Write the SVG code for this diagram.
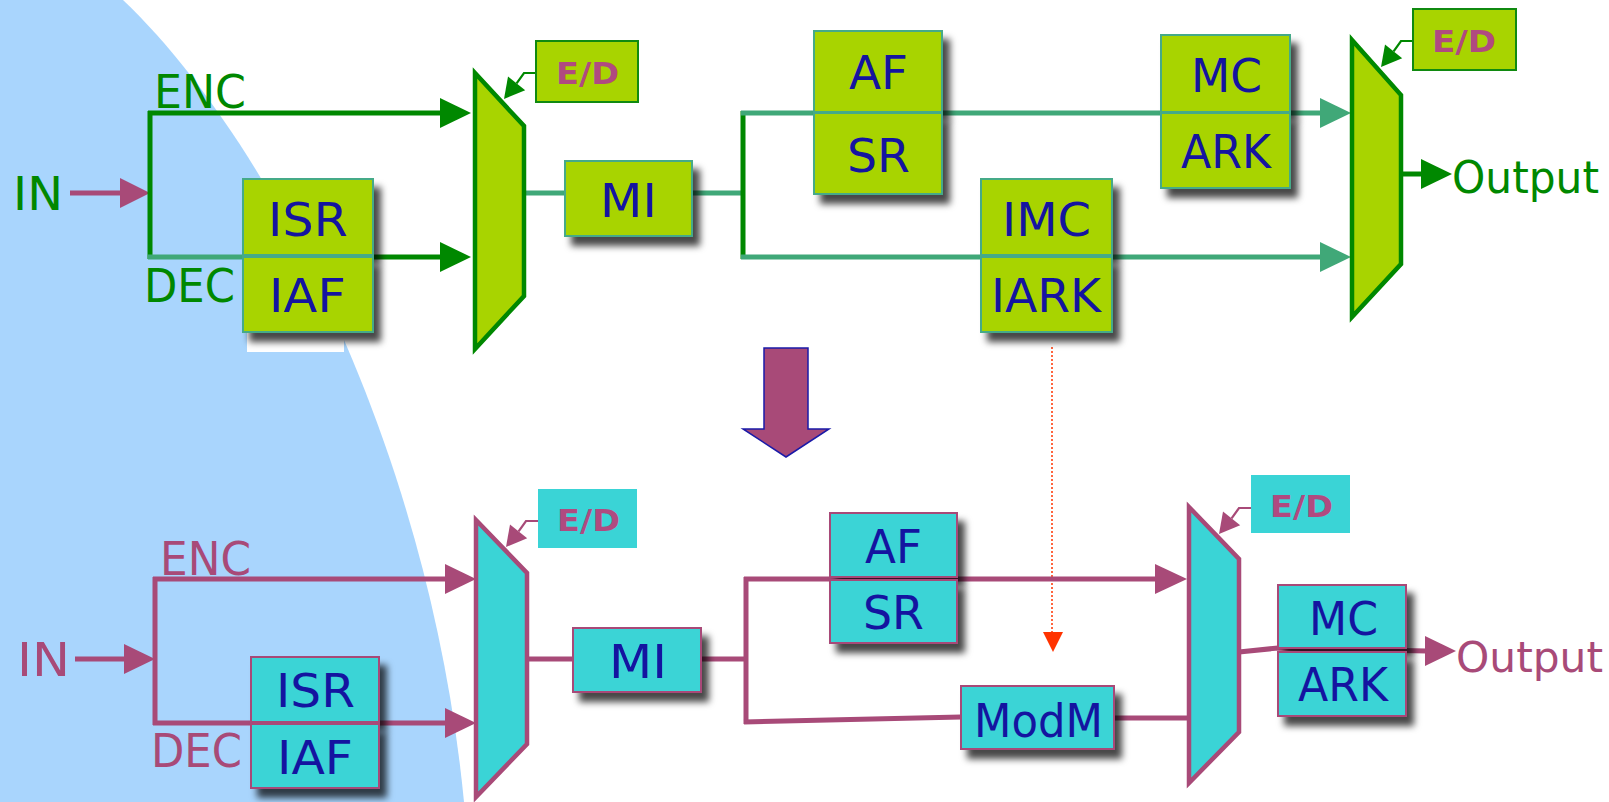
<svg xmlns="http://www.w3.org/2000/svg" xmlns:xlink="http://www.w3.org/1999/xlink" width="1609" height="802" viewBox="0 0 1609 802">
<style>
.gbox{fill:#A8D400;stroke:#44AA88;stroke-width:2;filter:url(#sh)}
.cbox{fill:#3AD4D6;stroke:#A84A78;stroke-width:2;filter:url(#sh)}
.gedbox{fill:#A8D400;stroke:#108A10;stroke-width:2}
.cedbox{fill:#3AD4D6;stroke:none}
.lbl{font-family:"DejaVu Sans",Verdana,sans-serif;font-size:47px;fill:#1414A0}
.gt{font-family:"DejaVu Sans",Verdana,sans-serif;font-size:47px;fill:#008800}
.mt{font-family:"DejaVu Sans",Verdana,sans-serif;font-size:47px;fill:#A84A78}
.ed{font-family:"DejaVu Sans",Verdana,sans-serif;font-weight:bold;font-size:31px;fill:#B04A80}
.gmux{fill:#A8D400;stroke:#008800;stroke-width:4.5;stroke-linejoin:miter}
.cmux{fill:#3AD4D6;stroke:#A84A78;stroke-width:4.5;stroke-linejoin:miter}
.gl{stroke:#008800;stroke-width:5;fill:none}
.tl{stroke:#40A878;stroke-width:5;fill:none}
.ml{stroke:#A84A78;stroke-width:5;fill:none}
.ga{fill:#008800}
.ta{fill:#40A878}
.ma{fill:#A84A78}
</style>
<defs>
<filter id="sh" x="-10%" y="-10%" width="140%" height="150%">
<feDropShadow dx="7" dy="9" stdDeviation="3.5" flood-color="#000" flood-opacity="0.72"/>
</filter>
<g id="edarrow">
<path d="M0,0 H-12 L-19.4,10.4" fill="none" stroke="currentColor" stroke-width="2.2"/>
<polygon points="-32,26 -10.8,17.3 -28,3.5" fill="currentColor"/>
</g>
</defs>

<rect width="1609" height="802" fill="#FFFFFF"/>
<path id="bg" d="M0,0 H123 C270,140 430,450 464,802 H0 Z" fill="#A9D5FD"/>
<rect x="247" y="333" width="97" height="19" fill="#FFFFFF"/>

<g id="connectors">
<!-- top -->
<line class="ml" x1="70" y1="193" x2="122" y2="193"/>
<polygon class="ma" points="120,178 150,193 120,208"/>
<line class="gl" x1="150" y1="111" x2="150" y2="259" stroke-width="4"/>
<line class="gl" x1="148" y1="113" x2="442" y2="113"/>
<polygon class="ga" points="440,98 471,113 440,128"/>
<line class="tl" x1="148" y1="257" x2="245" y2="257"/>
<line class="gl" x1="245" y1="257" x2="442" y2="257"/>
<polygon class="ga" points="440,242 471,257 440,272"/>
<line class="tl" x1="524" y1="193" x2="565" y2="193"/>
<line class="tl" x1="692" y1="193" x2="743" y2="193"/>
<line class="gl" x1="743" y1="111" x2="743" y2="259" stroke-width="4"/>
<line class="tl" x1="741" y1="113" x2="1322" y2="113"/>
<polygon class="ta" points="1320,98 1351,113 1320,128"/>
<line class="tl" x1="741" y1="257" x2="1322" y2="257"/>
<polygon class="ta" points="1320,242 1351,257 1320,272"/>
<line class="gl" x1="1401" y1="174" x2="1423" y2="174"/>
<polygon class="ga" points="1421,159 1452,174 1421,189"/>
<use xlink:href="#edarrow" x="536" y="73" color="#008800"/>
<use xlink:href="#edarrow" x="1413" y="41" color="#008800"/>
<!-- transform arrow -->
<polygon points="764,348 808,348 808,429 829,429 786,457 743,429 764,429" fill="#A84A78" stroke="#1A1AA8" stroke-width="1.5"/>
<line x1="1052" y1="347" x2="1052" y2="634" stroke="#FF3300" stroke-width="1.5" stroke-dasharray="2,2"/>
<polygon points="1043,632 1063,632 1053,652" fill="#FF3300"/>
<!-- bottom -->
<line class="ml" x1="75" y1="659" x2="126" y2="659"/>
<polygon class="ma" points="124,644 155,659 124,674"/>
<line class="ml" x1="155" y1="577" x2="155" y2="725"/>
<line class="ml" x1="153" y1="579" x2="447" y2="579"/>
<polygon class="ma" points="445,564 476,579 445,594"/>
<line class="ml" x1="153" y1="723" x2="447" y2="723"/>
<polygon class="ma" points="445,708 476,723 445,738"/>
<line class="ml" x1="527" y1="659" x2="573" y2="659"/>
<line class="ml" x1="701" y1="659" x2="746" y2="659"/>
<line class="ml" x1="746" y1="577" x2="746" y2="724"/>
<line class="ml" x1="744" y1="579" x2="1157" y2="579"/>
<polygon class="ma" points="1155,564 1187,579 1155,594"/>
<polyline class="ml" points="744,722 961,717"/>
<line class="ml" x1="1114" y1="718" x2="1189" y2="718"/>
<polyline class="ml" points="1239,652 1278,648 1427,651"/>
<polygon class="ma" points="1425,636 1456,651 1425,666"/>
<use xlink:href="#edarrow" x="538" y="521" color="#A84A78"/>
<use xlink:href="#edarrow" x="1251" y="508" color="#A84A78"/>
</g>

<!-- top labels -->
<g id="top-in"><text class="gt" x="13" y="210" textLength="50" lengthAdjust="spacingAndGlyphs">IN</text></g>
<g id="top-enc"><text class="gt" x="154" y="108" textLength="92" lengthAdjust="spacingAndGlyphs">ENC</text></g>
<g id="top-dec"><text class="gt" x="144" y="302" textLength="91" lengthAdjust="spacingAndGlyphs">DEC</text></g>

<g id="top-isr"><rect class="gbox" x="243" y="179" width="130" height="76"/><text class="lbl" x="268" y="236" textLength="80" lengthAdjust="spacingAndGlyphs">ISR</text></g>
<g id="top-iaf"><rect class="gbox" x="243" y="257" width="130" height="75"/><text class="lbl" x="269" y="312" textLength="77" lengthAdjust="spacingAndGlyphs">IAF</text></g>

<g id="top-mux1"><polygon class="gmux" points="475,73 524,126 524,296 475,349"/></g>
<g id="top-ed1"><rect class="gedbox" x="536" y="41" width="102" height="61"/><text class="ed" x="556" y="84" textLength="63" lengthAdjust="spacingAndGlyphs">E/D</text></g>

<g id="top-mi"><rect class="gbox" x="565" y="161" width="127" height="75"/><text class="lbl" x="600" y="217" textLength="57" lengthAdjust="spacingAndGlyphs">MI</text></g>

<g id="top-af"><rect class="gbox" x="814" y="31" width="128" height="81"/><text class="lbl" x="849" y="89" textLength="59" lengthAdjust="spacingAndGlyphs">AF</text></g>
<g id="top-sr"><rect class="gbox" x="814" y="113" width="128" height="81"/><text class="lbl" x="847" y="172" textLength="63" lengthAdjust="spacingAndGlyphs">SR</text></g>

<g id="top-imc"><rect class="gbox" x="981" y="179" width="131" height="76"/><text class="lbl" x="1002" y="236" textLength="89" lengthAdjust="spacingAndGlyphs">IMC</text></g>
<g id="top-iark"><rect class="gbox" x="981" y="257" width="131" height="75"/><text class="lbl" x="991" y="312" textLength="110" lengthAdjust="spacingAndGlyphs">IARK</text></g>

<g id="top-mc"><rect class="gbox" x="1161" y="35" width="129" height="77"/><text class="lbl" x="1191" y="92" textLength="71" lengthAdjust="spacingAndGlyphs">MC</text></g>
<g id="top-ark"><rect class="gbox" x="1161" y="113" width="129" height="75"/><text class="lbl" x="1181" y="168" textLength="90" lengthAdjust="spacingAndGlyphs">ARK</text></g>

<g id="top-mux2"><polygon class="gmux" points="1352,40 1401,95 1401,264 1352,317"/></g>
<g id="top-ed2"><rect class="gedbox" x="1413" y="9" width="103" height="61"/><text class="ed" x="1432" y="52" textLength="64" lengthAdjust="spacingAndGlyphs">E/D</text></g>
<g id="top-output"><text class="gt" x="1452" y="193" style="font-size:44px" textLength="147" lengthAdjust="spacingAndGlyphs">Output</text></g>

<!-- bottom -->
<g id="bot-in"><text class="mt" x="17" y="676" textLength="53" lengthAdjust="spacingAndGlyphs">IN</text></g>
<g id="bot-enc"><text class="mt" x="160" y="575" textLength="91" lengthAdjust="spacingAndGlyphs">ENC</text></g>
<g id="bot-dec"><text class="mt" x="151" y="767" textLength="91" lengthAdjust="spacingAndGlyphs">DEC</text></g>

<g id="bot-isr"><rect class="cbox" x="251" y="657" width="128" height="65"/><text class="lbl" x="276" y="707" textLength="79" lengthAdjust="spacingAndGlyphs">ISR</text></g>
<g id="bot-iaf"><rect class="cbox" x="251" y="724" width="128" height="64"/><text class="lbl" x="277" y="774" textLength="76" lengthAdjust="spacingAndGlyphs">IAF</text></g>

<g id="bot-mux1"><polygon class="cmux" points="476,520 527,573 527,744 476,797"/></g>
<g id="bot-ed1"><rect class="cedbox" x="538" y="489" width="99" height="59"/><text class="ed" x="557" y="531" textLength="63" lengthAdjust="spacingAndGlyphs">E/D</text></g>

<g id="bot-mi"><rect class="cbox" x="573" y="628" width="128" height="64"/><text class="lbl" x="609" y="678" textLength="58" lengthAdjust="spacingAndGlyphs">MI</text></g>

<g id="bot-af"><rect class="cbox" x="830" y="513" width="127" height="64"/><text class="lbl" x="865" y="563" textLength="57" lengthAdjust="spacingAndGlyphs">AF</text></g>
<g id="bot-sr"><rect class="cbox" x="830" y="580" width="127" height="63"/><text class="lbl" x="863" y="629" textLength="61" lengthAdjust="spacingAndGlyphs">SR</text></g>

<g id="bot-modm"><rect class="cbox" x="961" y="686" width="153" height="63"/><text class="lbl" x="974" y="737" textLength="129" lengthAdjust="spacingAndGlyphs">ModM</text></g>

<g id="bot-mux2"><polygon class="cmux" points="1189,507 1239,559 1239,732 1189,783"/></g>
<g id="bot-ed2"><rect class="cedbox" x="1251" y="475" width="99" height="58"/><text class="ed" x="1270" y="517" textLength="63" lengthAdjust="spacingAndGlyphs">E/D</text></g>

<g id="bot-mc"><rect class="cbox" x="1278" y="585" width="128" height="63"/><text class="lbl" x="1309" y="635" textLength="69" lengthAdjust="spacingAndGlyphs">MC</text></g>
<g id="bot-ark"><rect class="cbox" x="1278" y="652" width="128" height="64"/><text class="lbl" x="1298" y="701" textLength="90" lengthAdjust="spacingAndGlyphs">ARK</text></g>

<g id="bot-output"><text class="mt" x="1456" y="672" style="font-size:43.5px" textLength="147" lengthAdjust="spacingAndGlyphs">Output</text></g>
</svg>
